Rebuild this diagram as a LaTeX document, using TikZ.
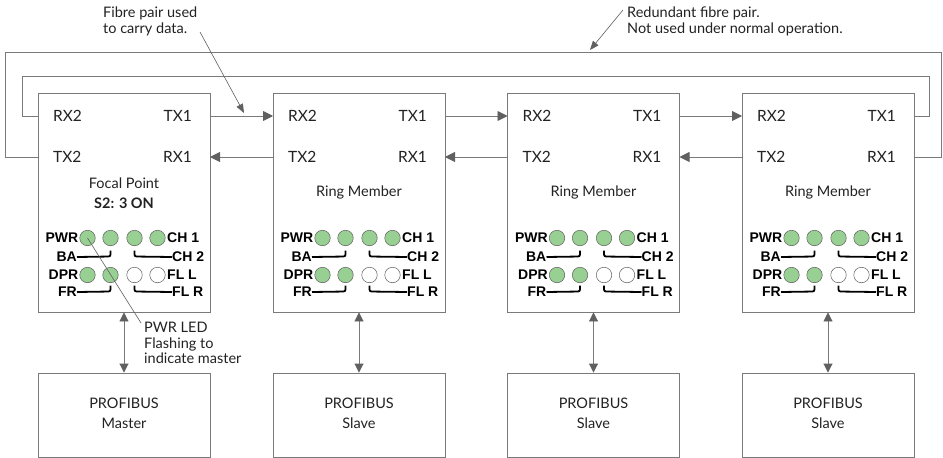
\documentclass[tikz,border=0pt]{standalone}
\usepackage{fontspec}
\setmainfont{Lato}
\newfontfamily\ledfont{Liberation Sans}
\usetikzlibrary{arrows.meta}
\definecolor{linegray}{HTML}{7A7A7A}
\definecolor{headgray}{HTML}{606060}
\definecolor{ledgreen}{HTML}{98CF92}
\definecolor{txt}{HTML}{222222}
\tikzset{
  box/.style={draw=linegray, line width=0.9pt, fill=white, inner sep=0pt},
  link/.style={draw=linegray, line width=0.9pt},
  arr/.style={link, -{Triangle[length=10pt,width=10pt]}, arrows={[color=headgray]}},
  dbl/.style={link, {Triangle[length=9pt,width=9pt]}-{Triangle[length=9pt,width=9pt]}, arrows={[color=headgray]}},
  note/.style={draw=headgray, line width=0.6pt, -{Triangle[length=9pt,width=7pt]}},
  port/.style={font=\fontsize{15.5}{17}\selectfont, text=txt, inner sep=0pt},
  lbl/.style={font=\fontsize{14.5}{20}\selectfont, text=txt, inner sep=0pt, align=center},
  ann/.style={font=\fontsize{14.5}{15.5}\selectfont, text=txt, inner sep=0pt, align=left},
  ledlbl/.style={font=\ledfont\bfseries\fontsize{14}{15}\selectfont, text=black, inner sep=0pt},
  led/.style={circle, draw=headgray, line width=0.5pt, minimum size=15.5pt, inner sep=0pt},
  ledon/.style={led, fill=ledgreen},
  ledoff/.style={led, fill=white},
  brk/.style={draw=black, line width=1.8pt, rounded corners=2pt},
}
\begin{document}
\begin{tikzpicture}[x=1pt,y=-1pt]
\useasboundingbox (0,0) rectangle (943,458);
\fill[white] (0,0) rectangle (943,458);

% top boxes and ports
\foreach \i/\L in {1/38,2/273,3/507.5,4/742}{
  \pgfmathsetmacro{\R}{\L+172}
  \pgfmathsetmacro{\C}{\L+86}
  \node[box, minimum width=172pt, minimum height=219pt] (b\i) at (\C,202.5) {};
  \coordinate (rxa\i) at (\L,116);
  \coordinate (txa\i) at (\R,116);
  \coordinate (txb\i) at (\L,157);
  \coordinate (rxb\i) at (\R,157);
  \node[port, anchor=west] (lrx2\i) at (\L+15,116) {RX2};
  \node[port, anchor=east] (ltx1\i) at (\R-18,116) {TX1};
  \node[port, anchor=west] (ltx2\i) at (\L+15,157) {TX2};
  \node[port, anchor=east] (lrx1\i) at (\R-18,157) {RX1};
  % LEDs
  \node[ledon] (la\i) at (\L+49.5,238) {};
  \node[ledon] (lb\i) at (\L+72.5,238) {};
  \node[ledon] (lc\i) at (\L+96.5,238) {};
  \node[ledon] (ld\i) at (\L+119.5,238) {};
  \node[ledon] (le\i) at (\L+49.5,275) {};
  \node[ledon] (lf\i) at (\L+72.5,275) {};
  \node[ledoff] (lg\i) at (\L+96.5,275) {};
  \node[ledoff] (lh\i) at (\L+119.5,275) {};
  \node[ledlbl, anchor=east] (pwr\i) at (\L+40.5,238) {PWR};
  \node[ledlbl, anchor=west] (ch1\i) at (\L+129,238) {CH 1};
  \node[ledlbl, anchor=east] (ba\i) at (\L+39,257) {BA};
  \node[ledlbl, anchor=west] (ch2\i) at (\L+134,257) {CH 2};
  \node[ledlbl, anchor=east] (dpr\i) at (\L+40.5,275) {DPR};
  \node[ledlbl, anchor=west] (fll\i) at (\L+129,275) {FL L};
  \node[ledlbl, anchor=east] (fr\i) at (\L+39,292) {FR};
  \node[ledlbl, anchor=west] (flr\i) at (\L+134,292) {FL R};
  \draw[brk] (ba\i.east) -- (\L+72.5,256.5) -- (\L+72.5,250.5);
  \draw[brk] (\L+96.5,250.5) -- (\L+96.5,256.5) -- (ch2\i.west);
  \draw[brk] (fr\i.east) -- (\L+72.5,291.5) -- (\L+72.5,285.5);
  \draw[brk] (\L+96.5,285.5) -- (\L+96.5,291.5) -- (flr\i.west);
  % bottom boxes
  \node[box, minimum width=172pt, minimum height=84pt] (p\i) at (\C,415) {};
  \draw[dbl] (b\i.south) -- (p\i.north);
}
\node[lbl] (fp) at (124,183) {Focal Point};
\node[lbl, font=\fontsize{14.5}{15.5}\selectfont\bfseries] (s2) at (124,203) {S2: 3 ON};
\node[lbl] (rm2) at (359,192) {Ring Member};
\node[lbl] (rm3) at (593.5,192) {Ring Member};
\node[lbl] (rm4) at (828,192) {Ring Member};

\node[lbl] (pt1) at (124,413) {PROFIBUS\\Master};
\node[lbl] (pt2) at (359,413) {PROFIBUS\\Slave};
\node[lbl] (pt3) at (593.5,413) {PROFIBUS\\Slave};
\node[lbl] (pt4) at (828,413) {PROFIBUS\\Slave};

% data links
\draw[arr] (txa1) -- (rxa2);
\draw[arr] (txa2) -- (rxa3);
\draw[arr] (txa3) -- (rxa4);
\draw[arr] (txb2) -- (rxb1);
\draw[arr] (txb3) -- (rxb2);
\draw[arr] (txb4) -- (rxb3);

% redundant loops
\coordinate (il) at (22,76);
\coordinate (ir) at (929,76);
\coordinate (ol) at (5.5,52);
\coordinate (or) at (941.5,52);
\draw[link] (rxa1) -| (il) -- (ir) |- (txa4);
\draw[link] (txb1) -| (ol) -- (or) |- (rxb4);

% annotations
\node[ann, anchor=north west] (afib) at (103,7) {Fibre pair used\\to carry data.};
\coordinate (fa) at (200,32);
\coordinate (fb) at (244,113);
\draw[note] (fa) -- (fb);
\node[ann, anchor=north west] (ared) at (627,7) {Redundant fibre pair.\\Not used under normal operation.};
\coordinate (ra) at (623,10);
\coordinate (rb) at (590,50);
\draw[note] (ra) -- (rb);
\node[ann, anchor=north west] (apwr) at (144,322) {PWR LED\\Flashing to\\indicate master};
\coordinate (pa) at (141,323);
\draw[headgray, line width=0.6pt] (la1.center) -- (pa);
\end{tikzpicture}
\end{document}
